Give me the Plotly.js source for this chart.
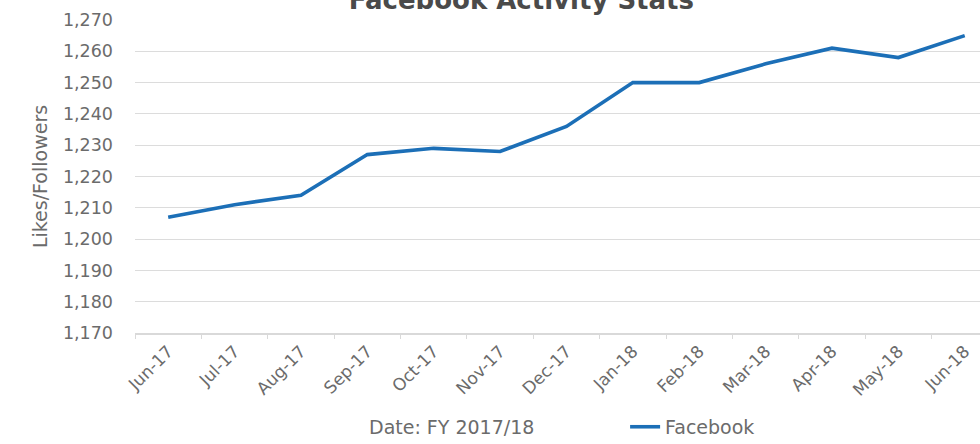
<!DOCTYPE html>
<html>
<head>
<meta charset="utf-8">
<script src="https://cdn.plot.ly/plotly-3.0.1.min.js"></script>
<style>html,body{margin:0;padding:0;background:#fff;}#chart{width:980px;height:444px;}</style>
</head>
<body>
<div id="chart"></div>
<script>
const months = ["Jun-17","Jul-17","Aug-17","Sep-17","Oct-17","Nov-17","Dec-17","Jan-18","Feb-18","Mar-18","Apr-18","May-18","Jun-18"];
const facebook = [1207,1211,1214,1227,1229,1228,1236,1250,1250,1256,1261,1258,1265];
const yTicks = [1170,1180,1190,1200,1210,1220,1230,1240,1250,1260,1270];
const xTitle = "Date: FY 2017/18";

const fam = "'DejaVu Sans', sans-serif";
const grey = "#6b6b6b";

Plotly.newPlot("chart", [{
  x: months, y: facebook, type: "scatter", mode: "lines", name: "Facebook",
  line: {color: "#1c6fb7", width: 3.6}
}], {
  width: 980, height: 444,
  margin: {l: 135, r: 0, t: 20, b: 111, autoexpand: false},
  paper_bgcolor: "#fff", plot_bgcolor: "#fff",
  font: {family: fam, color: grey, size: 17},
  title: {text: "Facebook Activity Stats", x: 0.532, xref: "container", xanchor: "center",
          y: 1.0, yref: "container", yanchor: "middle",
          font: {family: fam, size: 26, color: "#4a4a4a", weight: "bold"}},
  xaxis: {type: "category", range: [-0.5, 12.23], tickson: "boundaries", ticks: "outside", ticklen: 4,
          tickcolor: "#d9d9d9", showline: true, linecolor: "#d9d9d9", linewidth: 1.5, showgrid: false,
          tickangle: -45, automargin: false, tickfont: {family: fam, size: 17, color: grey}},
  yaxis: {range: [1170, 1270], tickvals: yTicks, tickformat: ",", showgrid: true, gridcolor: "#dcdcdc",
          gridwidth: 1.3, zeroline: false, showline: false, ticks: "", ticklabelstandoff: 21,
          automargin: false, tickfont: {family: fam, size: 17.5, color: grey},
          title: {text: "Likes/Followers", font: {family: fam, size: 19, color: grey}, standoff: 10}},
  annotations: [{text: xTitle, xref: "paper", yref: "paper", x: 0.374, y: -0.30, xanchor: "center",
                 yanchor: "middle", showarrow: false, font: {family: fam, size: 19, color: grey}}],
  showlegend: true,
  legend: {orientation: "h", x: 0.58, xanchor: "left", y: -0.30, yanchor: "middle", yref: "paper",
           font: {family: fam, size: 19, color: grey}}
}, {displayModeBar: false});
</script>
</body>
</html>
